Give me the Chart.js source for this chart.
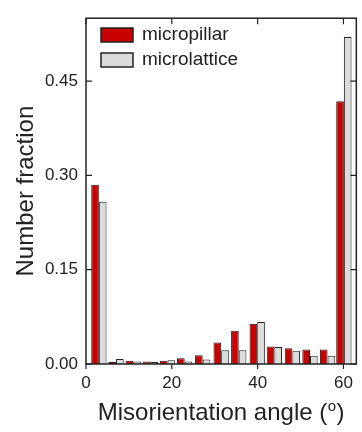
<!DOCTYPE html>
<html>
<head>
<meta charset="utf-8">
<script src="https://cdn.jsdelivr.net/npm/chart.js@4.4.0/dist/chart.umd.min.js"></script>
<style>
  html, body { margin: 0; padding: 0; background: #fff; }
</style>
</head>
<body>
<canvas id="chart" width="362" height="432"></canvas>
<script>
// bin centres (degrees) and number fractions
const angles = [3, 7, 11, 15, 19, 23, 27.2, 31.5, 35.6, 39.9, 43.9, 48.1, 52.2, 56.3, 60.1];
const micropillar = [0.285, 0.003, 0.005, 0.004, 0.005, 0.009, 0.014, 0.034, 0.053, 0.064, 0.028, 0.025, 0.023, 0.023, 0.418];
const microlattice = [0.258, 0.008, 0.004, 0.003, 0.006, 0.004, 0.007, 0.022, 0.022, 0.067, 0.027, 0.021, 0.013, 0.013, 0.520];
const xTicks = [0, 20, 40, 60];
const yTicks = [0, 0.15, 0.30, 0.45];

const FONT = '"Liberation Sans", Arial, sans-serif';
const INK = '#222';

// frame with ticks, like the original plot box
const framePlugin = {
    id: 'frame',
    afterDraw(chart) {
        const { ctx, chartArea: a, scales } = chart;
        ctx.save();
        ctx.strokeStyle = INK;
        ctx.lineWidth = 1.5;
        ctx.strokeRect(a.left, a.top, a.right - a.left, a.bottom - a.top);
        ctx.lineWidth = 1.2;
        ctx.beginPath();
        xTicks.forEach(v => {
            const px = scales.x.getPixelForValue(v);
            ctx.moveTo(px, a.bottom); ctx.lineTo(px, a.bottom + 5);
            ctx.moveTo(px, a.top); ctx.lineTo(px, a.top + 6);
        });
        yTicks.forEach(v => {
            const py = scales.y.getPixelForValue(v);
            ctx.moveTo(a.left, py); ctx.lineTo(a.left + 6, py);
            ctx.moveTo(a.right, py); ctx.lineTo(a.right - 6, py);
        });
        ctx.stroke();
        ctx.restore();
    }
};

// legend drawn inside the plot area
const legendPlugin = {
    id: 'innerLegend',
    afterDraw(chart) {
        const { ctx } = chart;
        ctx.save();
        chart.data.datasets.forEach((ds, i) => {
            const y = 28 + i * 25;
            ctx.fillStyle = ds.backgroundColor;
            ctx.fillRect(101, y, 32, 14);
            ctx.strokeStyle = INK;
            ctx.lineWidth = 1.5;
            ctx.strokeRect(101, y, 32, 14);
            ctx.fillStyle = INK;
            ctx.font = '19px ' + FONT;
            ctx.textBaseline = 'middle';
            ctx.fillText(ds.label, 142, y + 7);
        });
        ctx.restore();
    }
};

// axis titles (x title has a superscript o)
const titlesPlugin = {
    id: 'titles',
    afterDraw(chart) {
        const { ctx, chartArea: a } = chart;
        ctx.save();
        ctx.fillStyle = INK;
        ctx.textBaseline = 'alphabetic';
        // y title
        ctx.font = '24px ' + FONT;
        ctx.translate(33, (a.top + a.bottom) / 2);
        ctx.rotate(-Math.PI / 2);
        ctx.textAlign = 'center';
        ctx.fillText('Number fraction', 0, 0);
        ctx.setTransform(1, 0, 0, 1, 0, 0);
        // x title
        const main = 'Misorientation angle (';
        const sup = 'o';
        const tail = ')';
        ctx.textAlign = 'left';
        ctx.font = '24px ' + FONT;
        const w1 = ctx.measureText(main).width;
        const w3 = ctx.measureText(tail).width;
        ctx.font = '15px ' + FONT;
        const w2 = ctx.measureText(sup).width + 1;
        const total = w1 + w2 + w3;
        const x = (a.left + a.right) / 2 - total / 2;
        const base = 420;
        ctx.font = '24px ' + FONT;
        ctx.fillText(main, x, base);
        ctx.font = '15px ' + FONT;
        ctx.fillText(sup, x + w1 + 0.5, base - 9);
        ctx.font = '24px ' + FONT;
        ctx.fillText(tail, x + w1 + w2, base);
        ctx.restore();
    }
};

new Chart(document.getElementById('chart'), {
    type: 'bar',
    data: {
        datasets: [
            {
                label: 'micropillar',
                data: angles.map((a, i) => ({ x: a, y: micropillar[i] })),
                backgroundColor: '#c80000',
                borderColor: INK,
                borderWidth: 1
            },
            {
                label: 'microlattice',
                data: angles.map((a, i) => ({ x: a, y: microlattice[i] })),
                backgroundColor: '#dcdcdc',
                borderColor: INK,
                borderWidth: 1
            }
        ]
    },
    options: {
        responsive: false,
        animation: false,
        categoryPercentage: 0.94,
        barPercentage: 1.0,
        layout: { padding: { left: 0, top: 12, right: 2, bottom: 0 } },
        plugins: {
            legend: { display: false },
            tooltip: { enabled: false }
        },
        scales: {
            x: {
                type: 'linear',
                min: 0,
                max: 63,
                offset: false,
                grid: { display: false, drawTicks: false },
                border: { display: false },
                afterBuildTicks: s => { s.ticks = xTicks.map(v => ({ value: v })); },
                afterFit: s => { s.height = 68; },
                ticks: {
                    padding: 9,
                    color: INK,
                    font: { family: FONT, size: 17 },
                    maxRotation: 0
                }
            },
            y: {
                min: 0,
                max: 0.55,
                grid: { display: false, drawTicks: false },
                border: { display: false },
                afterBuildTicks: s => { s.ticks = yTicks.map(v => ({ value: v })); },
                afterFit: s => { s.width = 86; },
                ticks: {
                    padding: 8,
                    color: INK,
                    font: { family: FONT, size: 17 },
                    callback: v => v.toFixed(2)
                }
            }
        }
    },
    plugins: [framePlugin, legendPlugin, titlesPlugin]
});
</script>
</body>
</html>
